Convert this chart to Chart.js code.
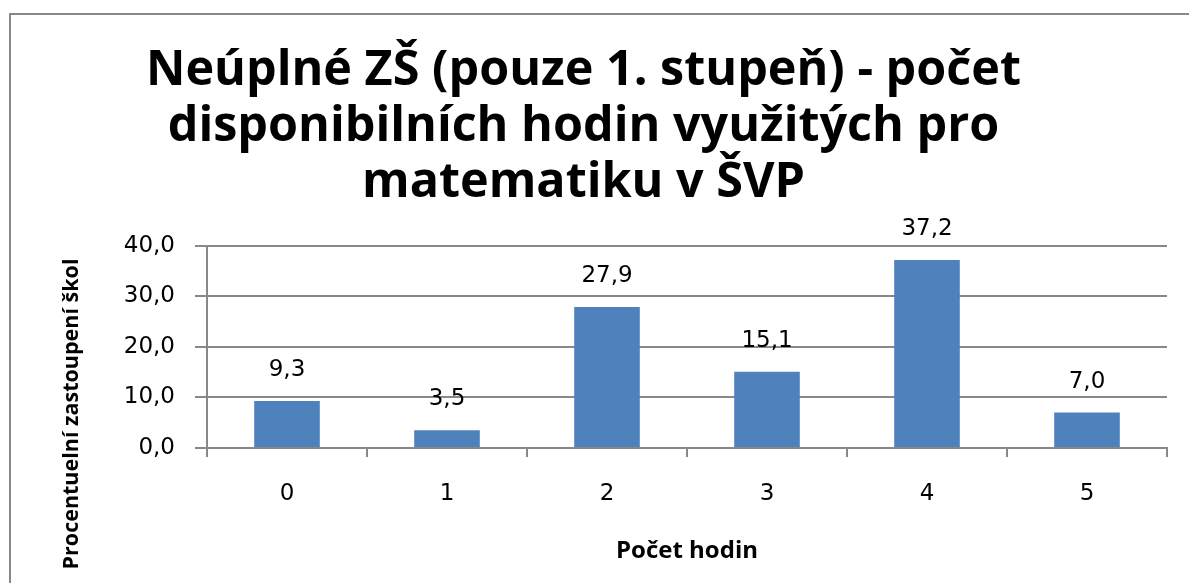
<!DOCTYPE html>
<html>
<head>
<meta charset="utf-8">
<script src="https://cdn.jsdelivr.net/npm/chart.js@4/dist/chart.umd.min.js"></script>
<style>
  html, body { margin: 0; padding: 0; background: #fff; overflow: hidden; }
  #wrap { position: relative; width: 1189px; height: 583px; }
  #frame { position: absolute; left: 9px; top: 13px; width: 1200px; height: 600px; border: 2px solid #888; box-sizing: border-box; }
  canvas { position: absolute; left: 0; top: 0; }
</style>
</head>
<body>
<div id="wrap">
  <div id="frame"></div>
  <canvas id="chart" width="1189" height="583"></canvas>
</div>
<script>
// hodnoty
const categories = ['0', '1', '2', '3', '4', '5'];
const values = [9.3, 3.5, 27.9, 15.1, 37.2, 7.0];
const yTicks = [0, 10, 20, 30, 40];

const titleLines = ['Neúplné ZŠ (pouze 1. stupeň) - počet', 'disponibilních hodin využitých pro', 'matematiku v ŠVP'];
const xTitle = 'Počet hodin';
const yTitle = 'Procentuelní zastoupení škol';

const fmt = v => v.toFixed(1).replace('.', ',');

// popisky nad sloupci + názvy os
const labelsPlugin = {
    id: 'labels',
    afterDatasetsDraw(chart) {
        const ctx = chart.ctx;
        const meta = chart.getDatasetMeta(0);
        ctx.save();
        ctx.fillStyle = '#000';
        ctx.font = '23px "DejaVu Sans"';
        ctx.textAlign = 'center';
        ctx.textBaseline = 'middle';
        meta.data.forEach((bar, i) => {
            ctx.fillText(fmt(values[i]), bar.x, bar.y - 31);
        });

        const area = chart.chartArea;
        ctx.font = 'bold 24px "Open Sans"';
        ctx.fillText(xTitle, (area.left + area.right) / 2, 551);

        ctx.translate(72, 414);
        ctx.rotate(-Math.PI / 2);
        ctx.font = 'bold 21.5px "Open Sans"';
        ctx.fillText(yTitle, 0, 0);
        ctx.restore();
    }
};

new Chart(document.getElementById('chart'), {
    type: 'bar',
    data: {
        labels: categories,
        datasets: [{
            data: values,
            backgroundColor: '#4F81BD',
            barPercentage: 0.41,
            categoryPercentage: 1.0
        }]
    },
    options: {
        responsive: false,
        animation: false,
        layout: { padding: { left: 0, right: 22, top: 0, bottom: 0 } },
        plugins: {
            legend: { display: false },
            tooltip: { enabled: false },
            title: {
                display: true,
                text: titleLines,
                color: '#000',
                font: { family: 'Open Sans', size: 48.5, weight: 'bold', lineHeight: 1.16 },
                padding: { top: 43, bottom: 34 }
            }
        },
        scales: {
            x: {
                grid: { drawOnChartArea: false, color: '#888', lineWidth: 2, tickLength: 9 },
                border: { color: '#888', width: 2 },
                ticks: { color: '#000', font: { family: 'DejaVu Sans', size: 23 }, padding: 23 },
                afterFit(scale) { scale.height = 135; }
            },
            y: {
                min: 0,
                max: 40,
                afterBuildTicks(scale) { scale.ticks = yTicks.map(v => ({ value: v })); },
                grid: { color: '#888', lineWidth: 2, tickLength: 12 },
                border: { color: '#888', width: 2 },
                ticks: {
                    color: '#000',
                    font: { family: 'DejaVu Sans', size: 23 },
                    padding: 20,
                    callback: v => fmt(v)
                },
                afterFit(scale) { scale.width = 207; }
            }
        }
    },
    plugins: [labelsPlugin]
});
</script>
</body>
</html>
